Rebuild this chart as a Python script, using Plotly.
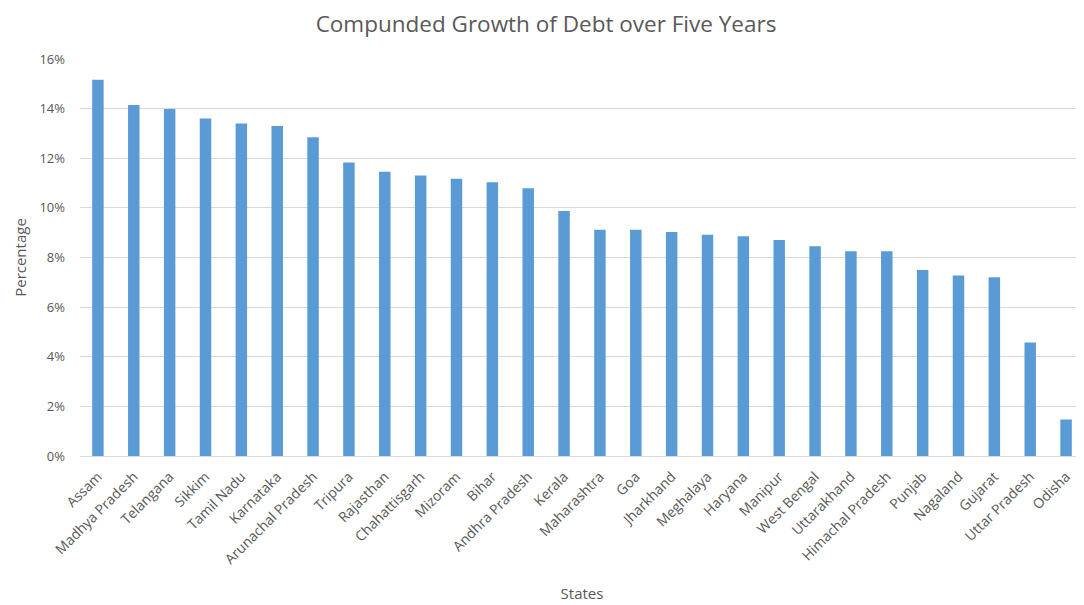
import plotly.graph_objects as go

states = ["Assam", "Madhya Pradesh", "Telangana", "Sikkim", "Tamil Nadu", "Karnataka",
          "Arunachal Pradesh", "Tripura", "Rajasthan", "Chahattisgarh", "Mizoram", "Bihar",
          "Andhra Pradesh", "Kerala", "Maharashtra", "Goa", "Jharkhand", "Meghalaya",
          "Haryana", "Manipur", "West Bengal", "Uttarakhand", "Himachal Pradesh", "Punjab",
          "Nagaland", "Gujarat", "Uttar Pradesh", "Odisha"]
growth = [15.16, 14.15, 13.98, 13.6, 13.4, 13.3, 12.85, 11.83, 11.46, 11.3, 11.17, 11.03,
          10.79, 9.87, 9.12, 9.12, 9.03, 8.92, 8.86, 8.71, 8.45, 8.25, 8.25, 7.5,
          7.27, 7.2, 4.57, 1.47]
growth_frac = [v / 100 for v in growth]

font_family = "'Open Sans', Lato, sans-serif"
grey = "#595959"

# page body has an 8px margin, so the figure is sized/offset to compensate
W, H = 1076, 597

fig = go.Figure(go.Bar(
    x=states, y=growth_frac, marker=dict(color="#5B9BD5", line=dict(width=0)),
    width=0.32,
))

fig.update_layout(
    width=W, height=H,
    paper_bgcolor="white", plot_bgcolor="white",
    margin=dict(l=72, r=0, t=51, b=149),
    title=dict(text="Compunded Growth of Debt over Five Years", x=538 / W, xanchor="center",
               xref="container", y=1 - 16 / H, yanchor="middle",
               font=dict(family=font_family, size=22.5, color=grey)),
    font=dict(family=font_family, color=grey),
    showlegend=False,
)
fig.update_yaxes(
    range=[0, 0.16], dtick=0.02, tickformat=".0%",
    showgrid=True, gridcolor="#D9D9D9", gridwidth=1,
    zeroline=False, showline=False, automargin=False,
    ticks="", ticklen=0, ticklabelstandoff=14,
    tickfont=dict(size=13, color=grey),
    title=dict(text="Percentage", font=dict(size=15, color=grey), standoff=9),
)
fig.update_xaxes(
    tickangle=-45, tickfont=dict(size=14, color=grey),
    showline=True, linecolor="#D9D9D9", linewidth=1, automargin=False,
    ticks="", showgrid=False, ticklabelstandoff=6,
    title=dict(text="States", font=dict(size=15, color=grey), standoff=21),
)

fig.write_html("out.html")
